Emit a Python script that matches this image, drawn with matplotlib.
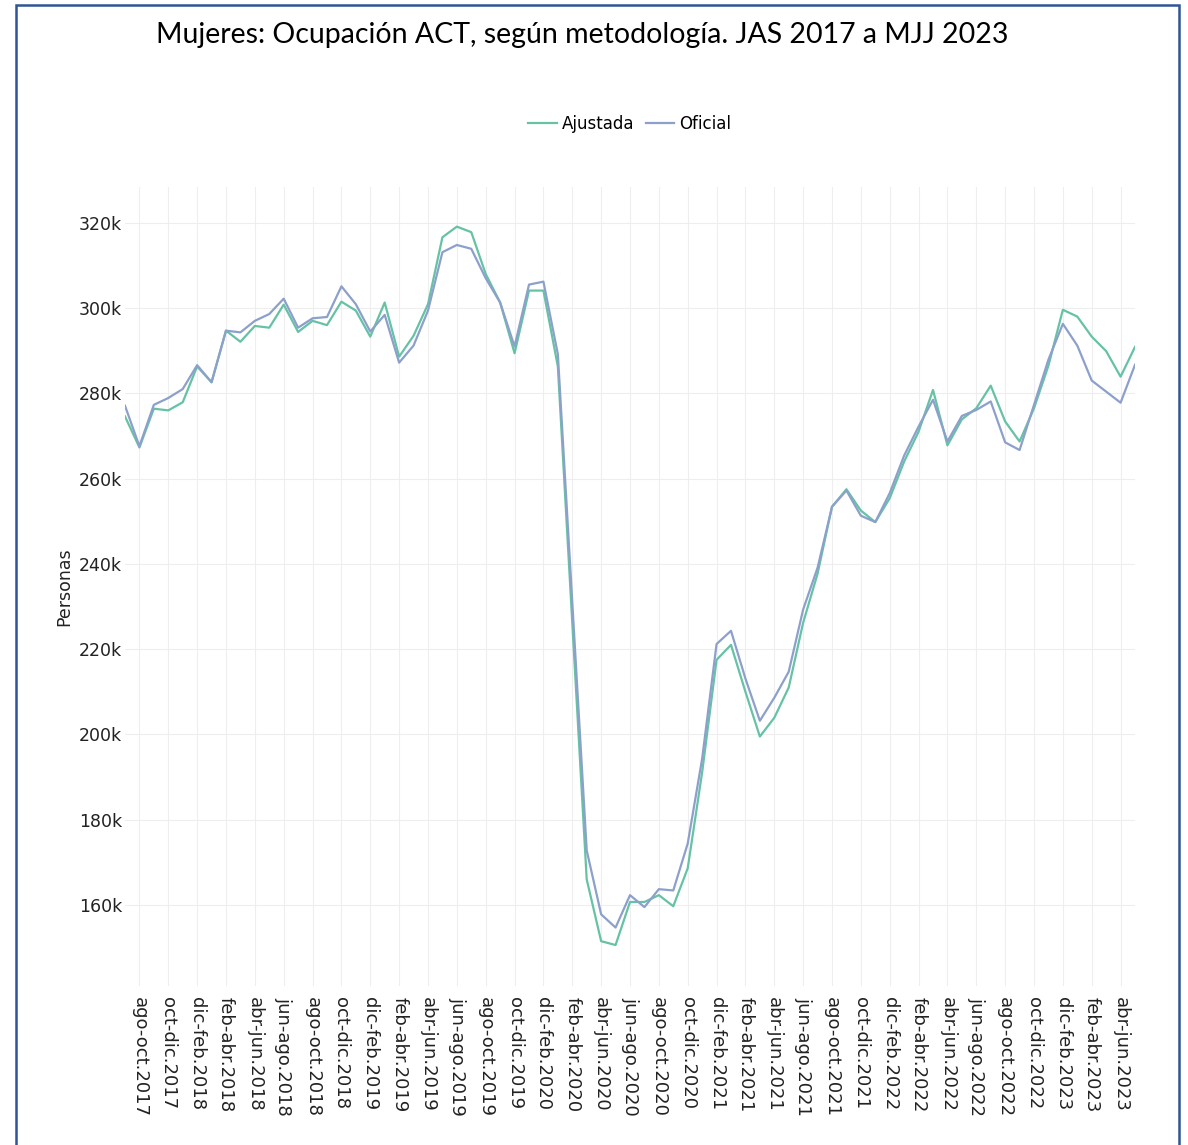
import matplotlib
matplotlib.use("Agg")
import matplotlib.pyplot as plt
from matplotlib.patches import Rectangle
from matplotlib.ticker import FuncFormatter

# moving quarters JAS 2017 .. MJJ 2023 (71 periods)
meses = ["ene", "feb", "mar", "abr", "may", "jun", "jul", "ago", "sep", "oct", "nov", "dic"]
periodos = []
for k in range(71):
    m0 = (6 + k) % 12
    m2 = (8 + k) % 12
    anio = 2017 + (8 + k) // 12
    periodos.append(f"{meses[m0]}-{meses[m2]}.{anio}")

# thousands of persons
ajustada = [274.6, 267.3, 276.4, 276.0, 277.9, 286.3, 282.6, 294.7, 292.1, 295.8,
            295.4, 300.8, 294.4, 297.0, 296.0, 301.5, 299.4, 293.3, 301.3, 288.6,
            293.5, 300.9, 316.6, 319.1, 317.8, 308.0, 301.3, 289.4, 304.1, 304.1,
            286.3, 226.2, 166.0, 151.5, 150.6, 160.7, 160.7, 162.3, 159.7, 168.6,
            191.1, 217.5, 221.0, 210.0, 199.5, 203.9, 211.0, 226.2, 237.7, 253.4,
            257.5, 252.5, 249.8, 255.4, 264.0, 271.0, 280.8, 267.8, 273.9, 276.5,
            281.8, 273.4, 268.7, 276.5, 286.5, 299.6, 298.0, 293.3, 289.9, 283.9,
            290.9]
oficial = [277.1, 267.6, 277.3, 278.9, 281.0, 286.6, 282.6, 294.7, 294.3, 297.0,
           298.6, 302.2, 295.4, 297.6, 297.9, 305.1, 300.9, 294.5, 298.4, 287.2,
           291.2, 299.4, 313.1, 314.8, 313.9, 307.0, 301.3, 291.0, 305.5, 306.2,
           289.2, 231.0, 172.8, 157.8, 154.7, 162.3, 159.5, 163.7, 163.4, 174.4,
           194.3, 221.2, 224.3, 213.1, 203.2, 208.6, 214.7, 229.3, 239.1, 253.4,
           257.2, 251.3, 249.8, 256.6, 265.4, 272.2, 278.5, 268.7, 274.7, 276.1,
           278.1, 268.5, 266.7, 277.3, 287.9, 296.3, 291.2, 283.0, 280.4, 277.8,
           286.7]

y_ticks = [160000, 180000, 200000, 220000, 240000, 260000, 280000, 300000, 320000]

fig = plt.figure(figsize=(11.88, 11.45), dpi=100)
ax = fig.add_axes([0.1052, 0.1389, 0.8502, 0.6978])

ax.plot(periodos, [v * 1000 for v in ajustada], color="#66c2a5", lw=1.6, label="Ajustada")
ax.plot(periodos, [v * 1000 for v in oficial], color="#8da0cb", lw=1.6, label="Oficial")

ax.set_xlim(0, len(periodos) - 1)
ax.set_ylim(141000, 328400)
ax.set_xticks(periodos[1::2])
ax.set_xticklabels(periodos[1::2], rotation=-90, fontsize=13, family="DejaVu Sans", color="#222222")
ax.set_yticks(y_ticks)
ax.yaxis.set_major_formatter(FuncFormatter(lambda v, p: f"{v / 1000:.0f}k"))
for lab in ax.get_yticklabels():
    lab.set_family("DejaVu Sans")
    lab.set_fontsize(12.5)
    lab.set_color("#222222")
ax.tick_params(axis="y", length=0, pad=2)
ax.tick_params(axis="x", length=0, pad=8)
ax.grid(True, color="#eeeeee", lw=0.8)
ax.set_axisbelow(True)
for s in ax.spines.values():
    s.set_visible(False)
ax.set_ylabel("Personas", fontsize=12.5, family="DejaVu Sans", color="#222222", labelpad=4)

fig.text(0.4903, 0.9694, "Mujeres: Ocupación ACT, según metodología. JAS 2017 a MJJ 2023",
         ha="center", va="center", fontsize=20.5, family="Lato", color="#000000")

fig.legend(loc="center", bbox_to_anchor=(0.53, 0.8917), ncol=2, frameon=False,
           prop={"family": "DejaVu Sans", "size": 12}, handlelength=1.7,
           handletextpad=0.3, columnspacing=0.7)

fig.add_artist(Rectangle((16 / 1188, -0.01), (1178.5 - 16) / 1188, 1.01 - 4.5 / 1145,
                         transform=fig.transFigure, fill=False,
                         edgecolor="#2f5597", lw=1.8))

fig.savefig("out.png", dpi=100)
